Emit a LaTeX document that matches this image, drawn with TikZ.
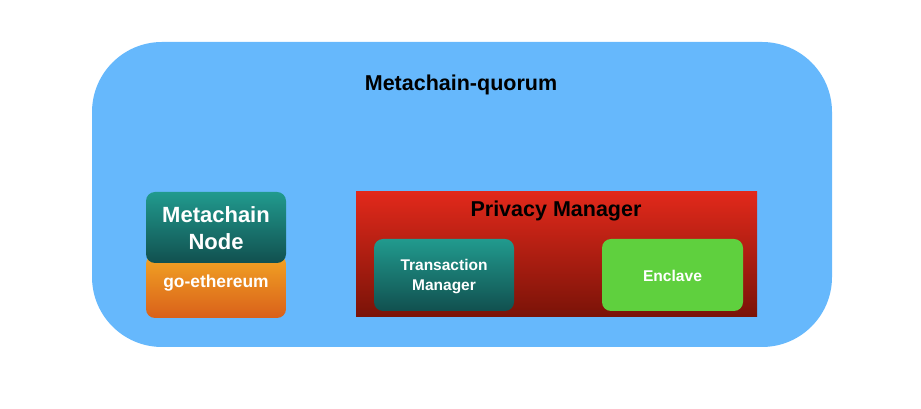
\documentclass[tikz,border=0pt]{standalone}
\usepackage{fontspec}
\setmainfont{Liberation Sans}
\definecolor{qblue}{HTML}{66B8FC}
\definecolor{tealtop}{HTML}{219A8E}
\definecolor{tealbot}{HTML}{11504F}
\definecolor{orgtop}{HTML}{F2A424}
\definecolor{orgbot}{HTML}{D9601A}
\definecolor{redtop}{HTML}{E2291B}
\definecolor{redbot}{HTML}{7A1308}
\definecolor{encl}{HTML}{5FD03E}
\tikzset{
  box/.style={rectangle, inner sep=0pt, draw=none},
  tealbox/.style={box, rounded corners=9pt, top color=tealtop, bottom color=tealbot},
  wlabel/.style={text=white, font=\bfseries, align=center, inner sep=0pt},
  blabel/.style={text=black, font=\bfseries, align=center, inner sep=0pt},
}
\begin{document}
\begin{tikzpicture}[x=1pt,y=1pt]
\useasboundingbox (0,0) rectangle (921,409);
\node[box, fill=qblue, rounded corners=70pt, minimum width=740pt, minimum height=305pt] (quorum) at (462,214.5) {};
\node[blabel, font=\bfseries\fontsize{21.5}{24}\selectfont] (qtitle) at (461,324.5) {Metachain-quorum};
\node[box, rounded corners=9pt, top color=orgtop, bottom color=orgbot, minimum width=140pt, minimum height=63pt] (geth) at (216,122.5) {};
\node[tealbox, minimum width=140pt, minimum height=71pt] (mnode) at (216,181.5) {};
\node[wlabel, font=\bfseries\fontsize{22}{27}\selectfont] (mnodet) at (216,180.5) {Metachain\\Node};
\node[wlabel, font=\bfseries\fontsize{17.4}{20}\selectfont] (gethT) at (216,125.5) {go-ethereum};
\node[box, top color=redtop, bottom color=redbot, minimum width=401pt, minimum height=125pt] (pm) at (556.5,155) {};
\node[blabel, font=\bfseries\fontsize{21.5}{24}\selectfont] (pmt) at (556,198.5) {Privacy Manager};
\node[tealbox, minimum width=140pt, minimum height=72pt] (tm) at (444,134) {};
\node[wlabel, font=\bfseries\fontsize{15.5}{19.5}\selectfont] (tmt) at (444,132.5) {Transaction\\Manager};
\node[box, rounded corners=9pt, fill=encl, minimum width=141pt, minimum height=72pt] (enc) at (672.5,134) {};
\node[wlabel, font=\bfseries\fontsize{15.6}{19}\selectfont] (enct) at (672.5,133) {Enclave};
\end{tikzpicture}
\end{document}
